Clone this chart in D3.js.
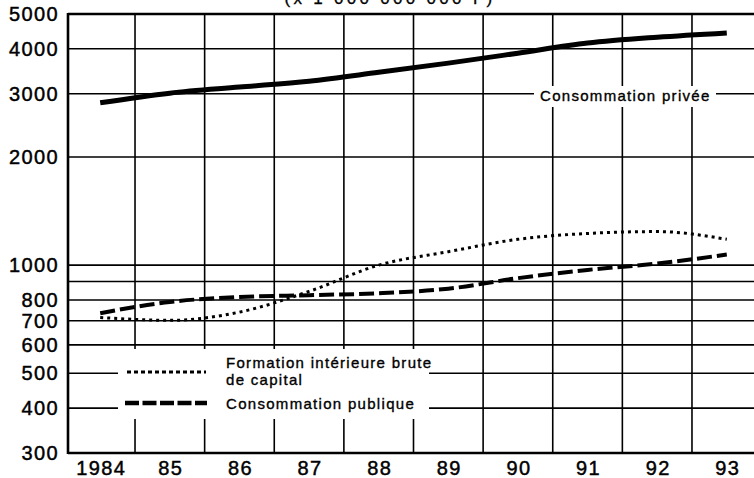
<!DOCTYPE html>
<html>
<head>
<meta charset="utf-8">
<script src="https://cdn.jsdelivr.net/npm/d3@7/dist/d3.min.js"></script>
<style>
  html, body { margin: 0; padding: 0; background: #fff; }
  svg { display: block; font-family: "Liberation Sans", Arial, Helvetica, sans-serif; }
</style>
</head>
<body>
<svg id="chart" width="754" height="478"></svg>
<script>
'use strict';

// values (milliards de F), log scale
var years      = [1984, 1985, 1986, 1987, 1988, 1989, 1990, 1991, 1992, 1993]
  , yearLabels = ['1984', '85', '86', '87', '88', '89', '90', '91', '92', '93']
  , privee     = [2830, 3010, 3130, 3250, 3440, 3650, 3890, 4150, 4310, 4430]
  , formation  = [715, 702, 740, 845, 1000, 1090, 1180, 1225, 1240, 1180]
  , publique   = [735, 790, 815, 825, 835, 860, 920, 970, 1010, 1070]
  , yTicks     = [300, 400, 500, 600, 700, 800, 1000, 2000, 3000, 4000, 5000]
  , yGrid      = [300, 400, 500, 600, 700, 800, 900, 1000, 2000, 3000, 4000, 5000]
  , title      = '(x 1 000 000 000 F)'
  , labelPrivee    = 'Consommation privée'
  , labelFormation = ['Formation intérieure brute', 'de capital']
  , labelPublique  = 'Consommation publique';

(function(){

  var svg = d3.select('#chart')
    , x0 = 68, y0 = 14, y1 = 453, x1 = 754;

  // year bands: grid lines fall between years
  var x = d3.scaleLinear().domain([1983.5, 1993.5]).range([65.4, 761.6])
    , y = d3.scaleLog().domain([300, 5000]).range([y1, y0]);

  var grid = svg.append('g').attr('stroke', '#000').attr('fill', 'none');

  grid.selectAll('line.h')
      .data(yGrid)
    .enter().append('line')
      .attr('class', 'h')
      .attr('x1', x0).attr('x2', x1)
      .attr('y1', function(d){ return y(d); })
      .attr('y2', function(d){ return y(d); })
      .attr('stroke-width', function(d){ return d === 5000 ? 2.4 : 1.6; });

  grid.selectAll('line.v')
      .data(years.slice(1))
    .enter().append('line')
      .attr('class', 'v')
      .attr('x1', function(d){ return x(d - 0.5); })
      .attr('x2', function(d){ return x(d - 0.5); })
      .attr('y1', y0).attr('y2', y1)
      .attr('stroke-width', 1.6);

  // axis frame
  grid.append('line').attr('x1', x0).attr('x2', x0).attr('y1', y0 - 1).attr('y2', y1 + 1).attr('stroke-width', 2.6);
  grid.append('line').attr('x1', x0).attr('x2', x1).attr('y1', y1).attr('y2', y1).attr('stroke-width', 2.6);

  // white patches where the labels cut the grid
  svg.append('rect').attr('x', 534).attr('y', 86).attr('width', 182).attr('height', 21).attr('fill', '#fff');
  svg.append('rect').attr('x', 118).attr('y', 349).attr('width', 311).attr('height', 70).attr('fill', '#fff');

  // y tick labels
  svg.append('g')
      .attr('font-size', 20).attr('text-anchor', 'end')
      .attr('stroke', '#000').attr('stroke-width', 0.45)
    .selectAll('text')
      .data(yTicks)
    .enter().append('text')
      .attr('x', 59)
      .attr('y', function(d){ return y(d); })
      .attr('dy', '0.36em')
      .attr('letter-spacing', 1.4)
      .text(function(d){ return d; });

  // x tick labels
  svg.append('g')
      .attr('font-size', 20).attr('text-anchor', 'middle')
      .attr('stroke', '#000').attr('stroke-width', 0.45)
    .selectAll('text')
      .data(years)
    .enter().append('text')
      .attr('x', function(d){ return x(d) + 1; })
      .attr('y', 475)
      .attr('letter-spacing', 1.4)
      .text(function(d, i){ return yearLabels[i]; });

  svg.append('text')
      .attr('x', 390).attr('y', 4)
      .attr('text-anchor', 'middle')
      .attr('font-size', 17).attr('letter-spacing', 3.3)
      .attr('stroke', '#000').attr('stroke-width', 0.3)
      .text(title);

  // series
  var line = d3.line()
      .x(function(d){ return x(d.year); })
      .y(function(d){ return y(d.value); })
      .curve(d3.curveMonotoneX);

  function series(values){
    return years.map(function(yr, i){ return { year: yr, value: values[i] }; });
  }

  svg.append('path')
      .datum(series(privee))
      .attr('d', line)
      .attr('fill', 'none').attr('stroke', '#000').attr('stroke-width', 5);

  svg.append('path')
      .datum(series(formation))
      .attr('d', line)
      .attr('fill', 'none').attr('stroke', '#000').attr('stroke-width', 3)
      .attr('stroke-dasharray', '3,4');

  svg.append('path')
      .datum(series(publique))
      .attr('d', line)
      .attr('fill', 'none').attr('stroke', '#000').attr('stroke-width', 4)
      .attr('stroke-dasharray', '15,5');

  // labels
  var labels = svg.append('g')
      .attr('font-size', 15).attr('letter-spacing', 1.3)
      .attr('stroke', '#000').attr('stroke-width', 0.35);

  labels.append('text').attr('x', 540).attr('y', 101).text(labelPrivee);

  labels.selectAll('text.f')
      .data(labelFormation)
    .enter().append('text')
      .attr('class', 'f')
      .attr('x', 226)
      .attr('y', function(d, i){ return 368 + i * 17; })
      .text(function(d){ return d; });

  labels.append('text').attr('x', 226).attr('y', 409).text(labelPublique);

  // legend samples
  svg.append('line')
      .attr('x1', 127).attr('x2', 206).attr('y1', 372).attr('y2', 372)
      .attr('stroke', '#000').attr('stroke-width', 2.8).attr('stroke-dasharray', '4,3');

  svg.append('line')
      .attr('x1', 125).attr('x2', 207).attr('y1', 403).attr('y2', 403)
      .attr('stroke', '#000').attr('stroke-width', 4.5).attr('stroke-dasharray', '14,3.5');

})();
</script>
</body>
</html>
